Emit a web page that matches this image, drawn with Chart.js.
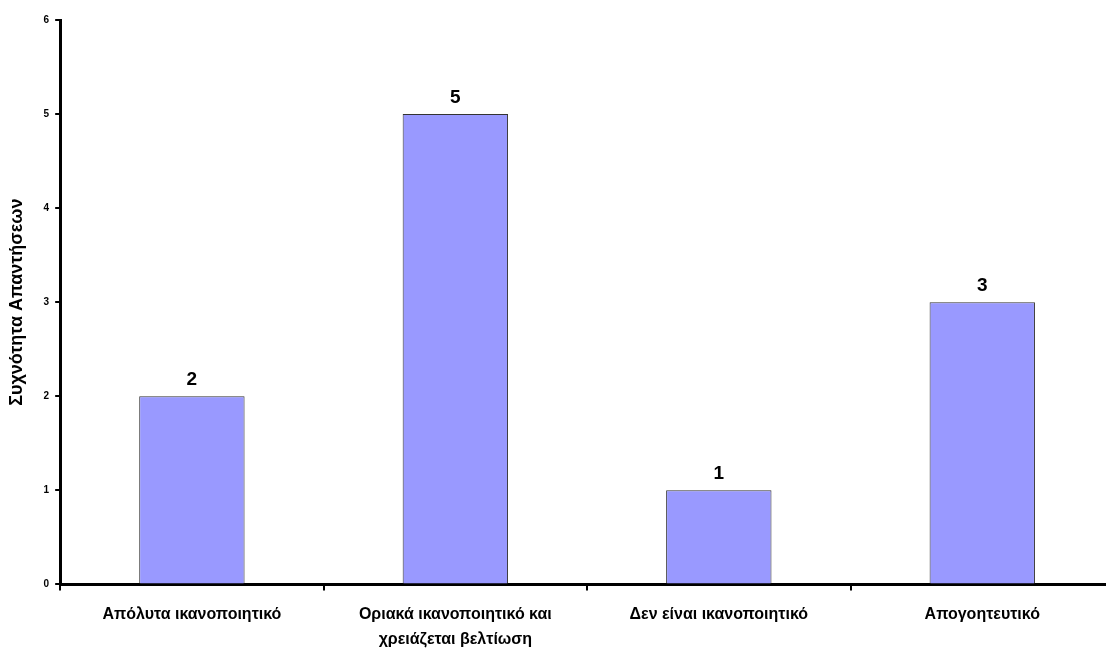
<!DOCTYPE html>
<html>
<head>
<meta charset="utf-8">
<script src="https://cdn.jsdelivr.net/npm/chart.js"></script>
<style>
  html, body { margin: 0; padding: 0; background: #fff; overflow: hidden; }
  #wrap { width: 1114px; height: 664px; }
</style>
</head>
<body>
<div id="wrap"><canvas id="chart"></canvas></div>
<script>
// Κατηγορίες και τιμές
var categories = [
    'Απόλυτα ικανοποιητικό',
    ['Οριακά ικανοποιητικό και', 'χρειάζεται βελτίωση'],
    'Δεν είναι ικανοποιητικό',
    'Απογοητευτικό'
];
var responses = [2, 5, 1, 3];
var yTicks = [0, 1, 2, 3, 4, 5, 6];

var fontFamily = '"Liberation Sans", Arial, sans-serif';

// Ετικέτες τιμών πάνω από τις μπάρες
var valueLabels = {
    id: 'valueLabels',
    afterDatasetsDraw: function (chart) {
        var ctx = chart.ctx;
        var meta = chart.getDatasetMeta(0);
        ctx.save();
        ctx.fillStyle = '#000';
        ctx.font = 'bold 19px ' + fontFamily;
        ctx.textAlign = 'center';
        ctx.textBaseline = 'bottom';
        meta.data.forEach(function (bar, i) {
            ctx.fillText(String(responses[i]), bar.x, bar.y - 7);
        });
        ctx.restore();
    }
};

var ctx = document.getElementById('chart').getContext('2d');
var chart = new Chart(ctx, {
    type: 'bar',
    data: {
        labels: categories,
        datasets: [{
            data: responses,
            backgroundColor: '#9999FF',
            borderColor: '#333333',
            borderWidth: 1,
            barPercentage: 0.4,
            categoryPercentage: 1.0
        }]
    },
    options: {
        responsive: true,
        maintainAspectRatio: false,
        animation: false,
        layout: { padding: { top: 20, right: 0, left: 6, bottom: 0 } },
        plugins: {
            legend: { display: false },
            tooltip: { enabled: false }
        },
        scales: {
            x: {
                grid: {
                    drawOnChartArea: false,
                    drawTicks: true,
                    tickLength: 6,
                    color: '#000',
                    lineWidth: 2,
                    offset: true
                },
                border: { color: '#000', width: 3 },
                ticks: {
                    color: '#000',
                    font: { family: fontFamily, size: 16, weight: 'bold', lineHeight: 1.55 },
                    maxRotation: 0,
                    autoSkip: false,
                    padding: 12
                }
            },
            y: {
                min: 0,
                max: 6,
                afterBuildTicks: function (axis) {
                    axis.ticks = yTicks.map(function (v) { return { value: v }; });
                },
                grid: {
                    drawOnChartArea: false,
                    drawTicks: true,
                    tickLength: 5,
                    color: '#000',
                    lineWidth: 2
                },
                border: { color: '#000', width: 3 },
                ticks: {
                    color: '#000',
                    font: { family: fontFamily, size: 10, weight: 'bold' },
                    padding: 6
                },
                title: {
                    display: true,
                    text: 'Συχνότητα Απαντήσεων',
                    color: '#000',
                    font: { family: fontFamily, size: 18, weight: 'bold' },
                    padding: { top: 0, bottom: 10 }
                }
            }
        }
    },
    plugins: [valueLabels]
});
</script>
</body>
</html>
